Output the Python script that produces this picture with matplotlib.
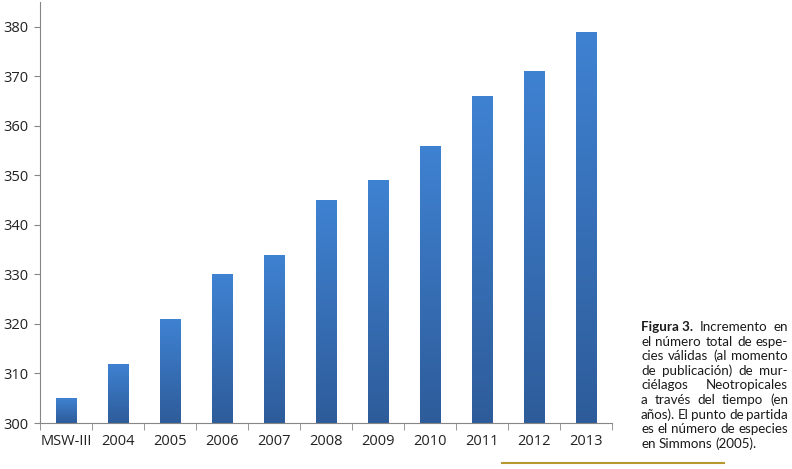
import numpy as np
import matplotlib
matplotlib.use("Agg")
import matplotlib.pyplot as plt
from matplotlib.colors import LinearSegmentedColormap

# data
categories = ["MSW-III", "2004", "2005", "2006", "2007", "2008",
              "2009", "2010", "2011", "2012", "2013"]
species = [305, 312, 321, 330, 334, 345, 349, 356, 366, 371, 379]
yticks = [300, 310, 320, 330, 340, 350, 360, 370, 380]

caption_lines = [
    ["Figura 3.", "Incremento", "en"],
    ["el", "número", "total", "de", "espe-"],
    ["cies", "válidas", "(al", "momento"],
    ["de", "publicación)", "de", "mur-"],
    ["ciélagos", "Neotropicales"],
    ["a", "través", "del", "tiempo", "(en"],
    ["años).", "El", "punto", "de", "partida"],
    ["es", "el", "número", "de", "especies"],
    ["en", "Simmons", "(2005)."],
]

W, H = 792, 469
fig = plt.figure(figsize=(W / 100, H / 100), dpi=100)
ax = fig.add_axes([40 / W, 1 - 423 / H, 572 / W, 421 / H])

x = np.arange(len(categories))
ymin, ymax = 300, 385
bars = ax.bar(x, [v - ymin for v in species], bottom=ymin, width=0.4,
              color="none", edgecolor="none")

# vertical gradient inside each bar
cmap = LinearSegmentedColormap.from_list("g", ["#2e5c9a", "#3f82d2"])
grad = np.linspace(0, 1, 256).reshape(-1, 1)
for b in bars:
    x0, w = b.get_x(), b.get_width()
    y0, h = b.get_y(), b.get_height()
    im = ax.imshow(grad, cmap=cmap, origin="lower", aspect="auto",
                   extent=[x0, x0 + w, y0, y0 + h], zorder=2)
    im.set_clip_path(b)

ax.set_xlim(-0.5, len(categories) - 0.5)
ax.set_ylim(ymin, ymax)
ax.set_yticks(yticks)
ax.set_xticks(x)
ax.set_xticklabels(categories)
ax.set_xticks(np.arange(-0.5, len(categories)), minor=True)

for s in ["top", "right"]:
    ax.spines[s].set_visible(False)
for s in ["left", "bottom"]:
    ax.spines[s].set_color("#868686")
ax.tick_params(axis="x", which="major", length=0, pad=8, labelsize=10.5)
ax.tick_params(axis="x", which="minor", length=5, color="#868686", direction="out")
ax.tick_params(axis="y", length=4, color="#868686", labelsize=10.5, pad=4)
for lab in ax.get_xticklabels() + ax.get_yticklabels():
    lab.set_fontfamily("Open Sans")
    lab.set_color("#222222")

# justified caption on the right
fig.canvas.draw()
r = fig.canvas.get_renderer()
left_px, right_px = 641, 788
top_px, step = 327, 14.6
fsize = 9.6
for i, words in enumerate(caption_lines):
    ypx = top_px + i * step
    yf = 1 - ypx / H
    arts = []
    for j, wd in enumerate(words):
        bold = (i == 0 and j == 0)
        t = fig.text(0, yf, wd, fontsize=fsize, family="Lato",
                     weight="bold" if bold else "normal", color="#1a1a1a",
                     va="center", ha="left")
        arts.append(t)
    widths = [t.get_window_extent(r).width for t in arts]
    space = fsize * 0.3
    last = i == len(caption_lines) - 1
    if last or len(arts) == 1:
        gap = space
    else:
        gap = (right_px - left_px - sum(widths)) / (len(arts) - 1)
    cur = left_px
    for t, wdt in zip(arts, widths):
        t.set_x(cur / W)
        cur += wdt + gap

fig.add_artist(plt.Line2D([502 / W, 724 / W], [1 - 463 / H, 1 - 463 / H],
                          color="#b8972f", lw=1.5))

fig.savefig("out.png", dpi=100)
